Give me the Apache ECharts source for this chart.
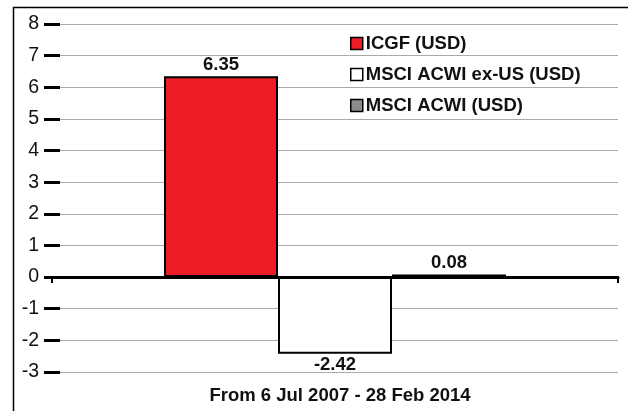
<!DOCTYPE html>
<html>
<head>
<meta charset="utf-8">
<script src="https://cdn.jsdelivr.net/npm/echarts@6/dist/echarts.min.js"></script>
<style>
  html, body { margin: 0; padding: 0; background: #fff; }
  #chart { width: 628px; height: 411px; }
</style>
</head>
<body>
<div id="chart"></div>
<script>
const categories = ['From 6 Jul 2007 - 28 Feb 2014']
const seriesNames = ['ICGF (USD)', 'MSCI ACWI ex-US (USD)', 'MSCI ACWI (USD)']
const seriesValues = [6.35, -2.42, 0.08]
const seriesColors = ['#ed1c24', '#ffffff', '#8c8c8c']
const yTicks = { min: -3, max: 8, step: 1 }

const font = 'Liberation Sans, Arial, sans-serif'

const chart = echarts.init(document.getElementById('chart'))
chart.setOption({
  animation: false,
  textStyle: { fontFamily: font },
  title: {
    text: categories[0],
    left: 335,
    textAlign: 'center',
    top: 381,
    textStyle: { fontFamily: font, fontSize: 18.5, fontWeight: 'bold', color: '#111' }
  },
  legend: {
    orient: 'vertical',
    left: 345,
    top: 29,
    itemWidth: 12,
    itemHeight: 12,
    itemGap: 12,
    icon: 'rect',
    data: seriesNames,
    textStyle: { fontFamily: font, fontSize: 18.5, fontWeight: 'bold', color: '#111', padding: [0, 0, 0, -2] },
    itemStyle: { borderColor: '#000', borderWidth: 1.5 }
  },
  grid: { left: 52, right: 10, top: 24, bottom: 39 },
  xAxis: {
    type: 'category',
    data: categories,
    axisLine: { lineStyle: { color: '#000', width: 3 } },
    axisTick: { show: true, length: 6, lineStyle: { color: '#000', width: 2 } },
    axisLabel: { show: false }
  },
  yAxis: {
    type: 'value',
    min: yTicks.min,
    max: yTicks.max,
    interval: yTicks.step,
    offset: -8,
    axisLine: { show: false },
    axisTick: { show: true, length: 16, lineStyle: { color: '#000', width: 3 } },
    axisLabel: { margin: 21, fontSize: 19.5, color: '#111', fontFamily: font },
    splitLine: { lineStyle: { color: '#aaa', width: 1 } }
  },
  series: seriesNames.map((name, i) => ({
    name,
    type: 'bar',
    barWidth: 114,
    barGap: '0%',
    data: [seriesValues[i]],
    itemStyle: { color: seriesColors[i], borderColor: '#000', borderWidth: 2 },
    label: {
      show: true,
      position: seriesValues[i] < 0 ? 'bottom' : 'top',
      distance: 2,
      formatter: p => p.value.toFixed(2),
      fontFamily: font,
      fontSize: 18.5,
      fontWeight: 'bold',
      color: '#111'
    }
  })),
  graphic: [{
    type: 'polyline',
    shape: { points: [[13.5, 411], [13.5, 7.5], [628, 7.5]] },
    style: { stroke: '#000', lineWidth: 1.5, fill: null }
  }]
})
</script>
</body>
</html>
